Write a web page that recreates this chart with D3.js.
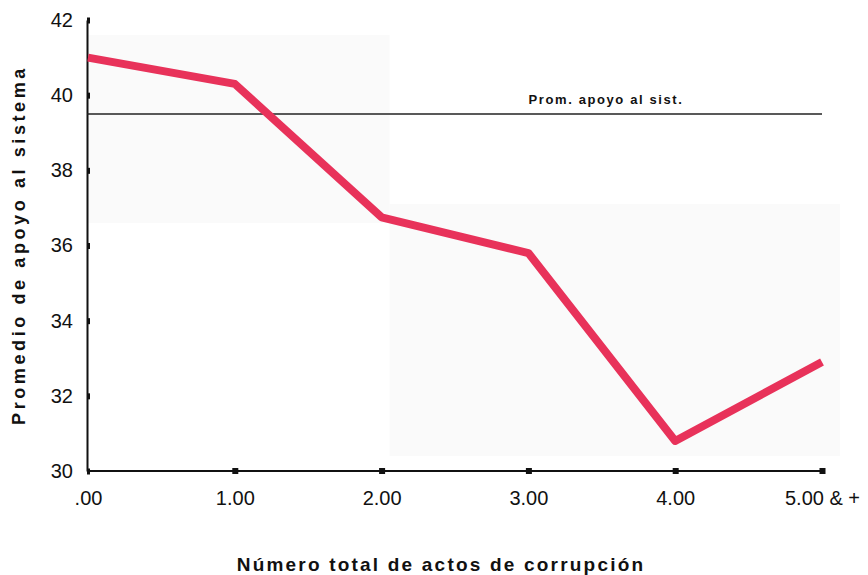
<!DOCTYPE html>
<html>
<head>
<meta charset="utf-8">
<script src="https://cdn.jsdelivr.net/npm/d3@7"></script>
<style>
  body { margin: 0; background: #fff; }
  svg { display: block; }
</style>
</head>
<body>
<svg id="chart"></svg>
<script>
// categories and values
var categories = [".00", "1.00", "2.00", "3.00", "4.00", "5.00 & +"];
var apoyo = [41.0, 40.3, 36.75, 35.8, 30.8, 32.9];
var promedio = 39.5;
var yTicks = [30, 32, 34, 36, 38, 40, 42];

var w = 868, h = 575;
var margin = { left: 87, right: 46, top: 20, bottom: 104 };
var font = "Liberation Sans, Arial, sans-serif";

var svg = d3.select("#chart").attr("width", w).attr("height", h);

var x = d3.scalePoint()
    .domain(categories)
    .range([margin.left + 1, w - margin.right]);

var y = d3.scaleLinear()
    .domain([30, 42])
    .range([h - margin.bottom, margin.top]);

// faint scan shading behind the plot
svg.append("rect")
    .attr("x", x(".00"))
    .attr("y", y(41.6))
    .attr("width", x("2.00") - x(".00") + 8)
    .attr("height", y(36.6) - y(41.6))
    .attr("fill", "#fafafa");
svg.append("rect")
    .attr("x", x("2.00") + 8)
    .attr("y", y(37.1))
    .attr("width", x("5.00 & +") - x("2.00") + 10)
    .attr("height", y(30.4) - y(37.1))
    .attr("fill", "#fafafa");

// y axis
var yAxis = d3.axisLeft(y)
    .tickValues(yTicks)
    .tickSize(0)
    .tickPadding(14)
    .tickFormat(d3.format("d"));

var gy = svg.append("g")
    .attr("transform", "translate(" + margin.left + ",0)")
    .call(yAxis);
gy.select(".domain").attr("stroke", "#111").attr("stroke-width", 2);
gy.selectAll("text")
    .attr("font-family", font)
    .attr("font-size", 20)
    .attr("fill", "#111");
gy.selectAll(".tick").append("rect")
    .attr("x", 0).attr("y", -3)
    .attr("width", 3).attr("height", 6)
    .attr("fill", "#111");

// x axis
var xAxis = d3.axisBottom(x).tickSize(0).tickPadding(20);
var gx = svg.append("g")
    .attr("transform", "translate(0," + (h - margin.bottom) + ")")
    .call(xAxis);
gx.select(".domain").attr("stroke", "#111").attr("stroke-width", 2)
    .attr("d", "M" + margin.left + ",0H" + x("5.00 & +"));
gx.selectAll("text")
    .attr("font-family", font)
    .attr("font-size", 20)
    .attr("fill", "#111");
gx.selectAll(".tick").filter(function(d, i) { return i > 0; })
    .append("rect")
    .attr("x", -3).attr("y", -3)
    .attr("width", 6).attr("height", 6)
    .attr("fill", "#111");

// average reference line
svg.append("line")
    .attr("x1", margin.left)
    .attr("x2", x("5.00 & +"))
    .attr("y1", y(promedio))
    .attr("y2", y(promedio))
    .attr("stroke", "#222")
    .attr("stroke-width", 1.5);

svg.append("text")
    .attr("x", 606)
    .attr("y", y(promedio) - 10)
    .attr("text-anchor", "middle")
    .attr("font-family", font)
    .attr("font-size", 13)
    .attr("font-weight", "bold")
    .attr("letter-spacing", 1.6)
    .attr("fill", "#111")
    .text("Prom. apoyo al sist.");

// data line
var line = d3.line()
    .x(function(d, i) { return x(categories[i]); })
    .y(function(d) { return y(d); });

svg.append("path")
    .datum(apoyo)
    .attr("d", line)
    .attr("fill", "none")
    .attr("stroke", "#e8325a")
    .attr("stroke-width", 8)
    .attr("stroke-linejoin", "round");

// axis titles
svg.append("text")
    .attr("x", 441)
    .attr("y", 571)
    .attr("text-anchor", "middle")
    .attr("font-family", font)
    .attr("font-size", 19)
    .attr("font-weight", "bold")
    .attr("letter-spacing", 2.2)
    .attr("fill", "#111")
    .text("Número total de actos de  corrupción");

svg.append("text")
    .attr("transform", "translate(25,245) rotate(-90)")
    .attr("text-anchor", "middle")
    .attr("font-family", font)
    .attr("font-size", 18)
    .attr("font-weight", "bold")
    .attr("letter-spacing", 3.6)
    .attr("fill", "#111")
    .text("Promedio de apoyo al sistema");
</script>
</body>
</html>
